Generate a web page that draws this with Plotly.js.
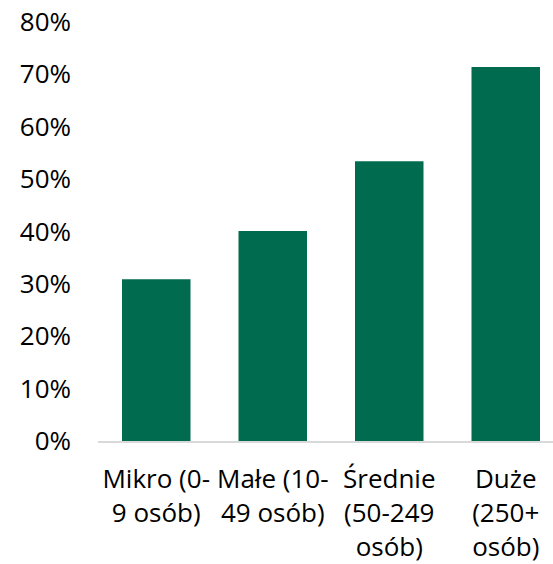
<!DOCTYPE html>
<html>
<head>
<meta charset="utf-8">
<script src="https://cdn.plot.ly/plotly-3.0.1.min.js"></script>
<style>
html,body{margin:0;padding:0;overflow:hidden;background:#fff;}
#chart{width:566px;height:564px;}
</style>
</head>
<body>
<div id="chart"></div>
<script>
const categories = ["Mikro (0-<br>9 osób)", "Małe (10-<br>49 osób)", "Średnie<br>(50-249<br>osób)", "Duże<br>(250+<br>osób)"];
const values = [0.309, 0.401, 0.534, 0.714];
const yTickVals = [0, 0.1, 0.2, 0.3, 0.4, 0.5, 0.6, 0.7, 0.8];
const yTickText = ["0%", "10%", "20%", "30%", "40%", "50%", "60%", "70%", "80%"];

const yFont = {family: "Open Sans, Noto Sans, sans-serif", size: 26, color: "#000000"};
const xFont = {family: "Open Sans, Noto Sans, sans-serif", size: 26, color: "#000000"};

Plotly.newPlot("chart", [{
  type: "bar",
  x: categories,
  y: values,
  marker: {color: "#006B4F"},
  hoverinfo: "skip"
}], {
  width: 566,
  height: 564,
  margin: {l: 98, r: 2, t: 22, b: 123},
  paper_bgcolor: "#ffffff",
  plot_bgcolor: "#ffffff",
  bargap: 0.412,
  showlegend: false,
  font: yFont,
  xaxis: {
    range: [-0.5, 3.5],
    showline: true,
    linecolor: "#D9D9D9",
    linewidth: 2,
    showgrid: false,
    zeroline: false,
    ticks: "",
    ticklabelstandoff: 14,
    tickfont: xFont,
    automargin: false,
    fixedrange: true
  },
  yaxis: {
    range: [0, 0.8],
    tickvals: yTickVals,
    ticktext: yTickText,
    showline: false,
    showgrid: false,
    zeroline: false,
    ticks: "",
    ticklabelstandoff: 26,
    tickfont: yFont,
    automargin: false,
    fixedrange: true
  }
}, {displayModeBar: false, staticPlot: true});
</script>
</body>
</html>
